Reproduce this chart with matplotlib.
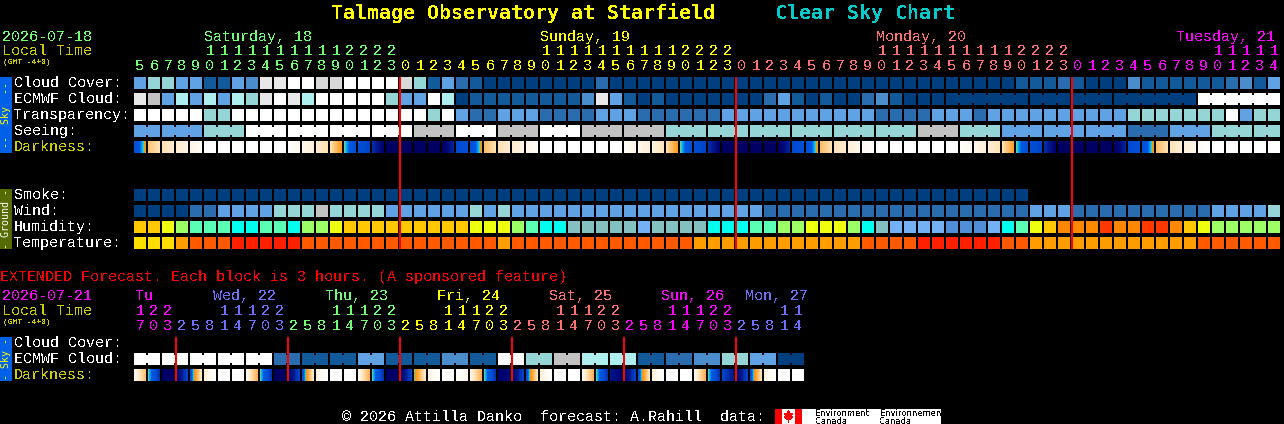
"""Clear Sky Chart, Talmage Observatory at Starfield."""
import matplotlib
matplotlib.use('Agg')
import matplotlib.pyplot as plt
import numpy as np
from matplotlib.colors import LinearSegmentedColormap
from matplotlib.patches import Polygon

# ─── data ───────────────────────────────────────────────────────────────────
# sky rows use an index into CLOUD_COLORS, one value per hourly block

hours = [5, 6, 7, 8, 9, 10, 11, 12, 13, 14, 15, 16, 17, 18, 19, 20, 21, 22, 23,
         0, 1, 2, 3, 4, 5, 6, 7, 8, 9, 10, 11, 12, 13, 14, 15, 16, 17, 18, 19, 20, 21, 22, 23,
         0, 1, 2, 3, 4, 5, 6, 7, 8, 9, 10, 11, 12, 13, 14, 15, 16, 17, 18, 19, 20, 21, 22, 23,
         0, 1, 2, 3, 4, 5, 6, 7, 8, 9, 10, 11, 12, 13, 14]
midnights = [19, 43, 67]
day_labels = ['Saturday, 18', 'Sunday, 19', 'Monday, 20', 'Tuesday, 21']

cloud_cover = [4, 5, 5, 4, 4, 1, 1, 4, 3, 9, 9, 10, 10, 11, 11, 10, 10, 10, 10, 11,
               5, 1, 4, 2, 1, 0, 0, 0, 0, 0, 0, 0, 0, 2, 0, 0, 0, 0, 0, 0,
               0, 0, 0, 0, 0, 0, 0, 0, 0, 0, 0, 0, 0, 0, 0, 0, 0, 0, 0, 0,
               0, 0, 0, 1, 1, 1, 2, 1, 0, 0, 0, 3, 1, 1, 1, 1, 1, 1, 2, 3,
               1, 4]
ecmwf_cloud = [9, 8, 4, 6, 4, 6, 4, 6, 5, 9, 10, 9, 6, 10, 10, 10, 10, 10, 5, 4,
               4, 10, 6, 0, 1, 1, 1, 1, 1, 1, 1, 1, 3, 9, 4, 1, 0, 1, 0, 0,
               0, 0, 0, 0, 0, 2, 4, 1, 0, 1, 0, 0, 2, 3, 1, 0, 0, 0, 0, 0,
               0, 0, 0, 0, 0, 0, 0, 0, 0, 0, 0, 0, 0, 0, 0, 0, 10, 10, 10, 10,
               10, 10]
ecmwf_runs = [[58, 6], [64, 3], [67, 3], [70, 6], [76, 6]]
transparency = [10, 10, 10, 10, 10, 5, 5, 10, 10, 10, 10, 10, 10, 10, 10, 10, 10, 10, 10, 10,
                10, 5, 10, 4, 2, 2, 4, 4, 4, 2, 2, 2, 2, 4, 4, 4, 2, 2, 2, 2,
                2, 2, 4, 4, 4, 4, 4, 4, 4, 4, 4, 4, 4, 2, 2, 2, 2, 4, 4, 4,
                2, 4, 4, 4, 4, 4, 4, 4, 4, 4, 4, 5, 5, 5, 5, 5, 5, 5, 10, 4,
                5, 5]
seeing_runs = [2, 3, 3, 3, 3, 3, 3, 3, 3, 3, 3, 3, 3, 3, 3, 3, 3, 3, 3, 3, 3, 3, 3, 3, 3, 3, 3, 2]
seeing = [4, 4, 5, 10, 10, 10, 10, 8, 10, 8, 10, 8, 8, 5, 5, 5, 5, 5, 5, 8, 5, 4, 4, 4, 2, 4, 5, 5]

# darkness: (left edge, right edge) of each block on the darkness scale, 0 is daylight
darkness = [(.62, .41), (.24, .14), (.15, .10), (.10, .06), (.06, .02), (0, 0), (0, 0), (0, 0),
            (0, 0), (0, 0), (0, 0), (.01, .04), (.04, .08), (.10, .15), (.15, .38), (.44, .62),
            (.62, .66), (.72, .90), (.95, .95), (.95, .95), (.95, .95), (.95, .95), (.95, .75),
            (.64, .62), (.62, .41), (.26, .15), (.15, .10), (.10, .06), (.05, .02), (0, 0),
            (0, 0), (0, 0), (0, 0), (0, 0), (0, 0), (.02, .05), (.05, .08), (.08, .13),
            (.15, .38), (.44, .62), (.62, .66), (.72, .90), (.95, .95), (.95, .95), (.95, .95),
            (.95, .95), (.95, .75), (.64, .62), (.62, .41), (.26, .15), (.14, .10), (.08, .05),
            (.03, 0), (0, 0), (0, 0), (0, 0), (0, 0), (0, 0), (0, 0), (.01, .04), (.05, .08),
            (.09, .14), (.15, .36), (.44, .62), (.62, .66), (.72, .90), (.95, .95), (.95, .95),
            (.95, .95), (.95, .95), (.95, .75), (.64, .62), (.62, .41), (.26, .15), (.14, .09),
            (.08, .05), (.02, 0), (0, 0), (0, 0), (0, 0), (0, 0), (0, 0)]

smoke = [0, 0, 0, 0, 0, 0, 0, 0, 0, 0, 0, 0, 0, 0, 0, 0, 0, 0, 0, 0, 0, 0, 0, 0, 0, 0, 0, 0, 0, 0, 0, 0,
         0, 0, 0, 0, 0, 0, 0, 0, 0, 0, 0, 0, 0, 0, 0, 0, 0, 0, 0, 0, 0, 0, 0, 0, 0, 0, 0, 0, 0, 0, 0, 0]
wind = [0, 0, 0, 0, 2, 2, 4, 4, 4, 4, 5, 5, 5, 8, 5, 5, 5, 5, 4, 4,
        4, 4, 4, 4, 5, 4, 5, 4, 4, 4, 4, 4, 4, 4, 4, 4, 4, 4, 4, 4,
        4, 4, 4, 4, 4, 2, 2, 2, 2, 2, 2, 2, 2, 2, 2, 2, 2, 2, 2, 2,
        2, 2, 2, 2, 4, 4, 4, 2, 2, 2, 2, 2, 2, 2, 2, 2, 2, 4, 4, 4,
        4, 5]
humidity = [2, 2, 3, 4, 5, 5, 5, 6, 6, 5, 5, 6, 4, 4, 3, 2, 2, 2, 2, 2,
            2, 2, 2, 2, 3, 3, 3, 4, 5, 6, 6, 7, 7, 7, 7, 7, 8, 7, 7, 7,
            7, 6, 6, 6, 5, 5, 4, 4, 3, 3, 3, 4, 6, 7, 8, 8, 8, 8, 9, 9,
            9, 8, 6, 5, 3, 2, 1, 1, 1, 0, 1, 1, 0, 0, 1, 2, 3, 4, 4, 4,
            4, 4]
temperature = [0, 0, 0, 1, 2, 2, 2, 3, 3, 3, 3, 3, 2, 2, 2, 2, 2, 2, 2, 2,
               2, 2, 2, 2, 2, 2, 1, 2, 2, 2, 2, 2, 2, 2, 2, 2, 2, 2, 2, 2,
               1, 1, 1, 1, 1, 1, 1, 1, 1, 1, 1, 1, 2, 2, 2, 2, 3, 3, 3, 3,
               3, 3, 2, 2, 1, 1, 1, 1, 1, 1, 1, 1, 1, 1, 1, 1, 2, 2, 2, 2,
               2, 2]

# extended forecast, one block per 3 hours
ext_hours = [17, 20, 23, 2, 5, 8, 11, 14, 17, 20, 23, 2, 5, 8, 11, 14, 17, 20, 23,
             2, 5, 8, 11, 14, 17, 20, 23, 2, 5, 8, 11, 14, 17, 20, 23,
             2, 5, 8, 11, 14, 17, 20, 23, 2, 5, 8, 11, 14]
ext_midnights = [3, 11, 19, 27, 35, 43]
ext_day_labels = ['Tu', 'Wed, 22', 'Thu, 23', 'Fri, 24', 'Sat, 25', 'Sun, 26', 'Mon, 27']
ext_ecmwf = [10, 10, 10, 10, 10, 2, 1, 1, 4, 1, 1, 3, 1, 10, 5, 8, 6, 6, 1, 2, 3, 5, 4, 0]  # one per 6 h
ext_darkness = [(.02, .25), (.44, .72), (.95, .92), (.90, .65), (.58, .10), (.08, 0), (0, 0), (0, 0),
                (.02, .30), (.44, .72), (.95, .95), (.90, .65), (.58, .10), (.06, 0), (0, 0), (0, 0),
                (.02, .30), (.44, .72), (.95, .92), (.90, .65), (.44, .10), (.06, 0), (0, 0), (0, .05),
                (.05, .30), (.44, .72), (.92, .85), (.90, .65), (.58, .12), (.08, 0), (0, 0), (0, 0),
                (.03, .30), (.44, .72), (.80, .90), (.90, .65), (.58, .12), (.08, 0), (0, 0), (0, 0),
                (.03, .30), (.44, .72), (.65, .80), (.90, .65), (.58, .12), (.06, 0), (0, 0), (0, 0)]

# ─── style ──────────────────────────────────────────────────────────────────

CLOUD_COLORS = ['#003f7f', '#135a9b', '#2a6cad', '#4b8ccc', '#60a2e4', '#95d5d5',
                '#afeeee', '#afeeee', '#c2c2c2', '#e8e8e8', '#ffffff', '#d8d8d8']
HUMIDITY_COLORS = ['#ff3800', '#ff8800', '#ffc800', '#eeff10', '#9cff66',
                   '#5affb4', '#00ffee', '#84c0c0', '#74b0f4', '#508fd8']
TEMP_COLORS = ['#ffdd00', '#ff9c00', '#ff5a00', '#ff2000']
DARK_CMAP = LinearSegmentedColormap.from_list('darkness', [
    (0.00, '#ffffff'), (0.05, '#fff6e8'), (0.10, '#ffecd0'), (0.15, '#ffe0b0'),
    (0.30, '#ffb050'), (0.42, '#ff9000'), (0.44, '#60d0a0'), (0.47, '#00b0ff'),
    (0.52, '#0058e0'), (0.62, '#0050d8'), (0.68, '#0040c0'), (0.78, '#001c90'),
    (0.90, '#000070'), (1.00, '#000058')])

GREEN, YELLOW, SALMON, MAGENTA, BLUE = '#70ff70', '#ffff00', '#ff7070', '#ff00ff', '#7070ff'
OLIVE_TEXT = '#cccc00'

X0, PITCH, SIZE = 134, 14, 12

plt.rcParams['font.family'] = ['Liberation Mono', 'DejaVu Sans Mono']
plt.rcParams['text.antialiased'] = False

fig = plt.figure(figsize=(12.84, 4.24), dpi=100, facecolor='black')
ax = fig.add_axes([0, 0, 1, 1])
ax.set_xlim(0, 1284)
ax.set_ylim(424, 0)
ax.autoscale(False)
ax.axis('off')

FS = 10.8  # 9 px per character


def put(x, y, s, color='white', size=FS, **kw):
    ax.text(x, y, s, color=color, fontsize=size, va='baseline', **kw)


def blocks(y, values, colors):
    xs = X0 + PITCH * np.arange(len(values))
    ax.bar(xs, SIZE, width=SIZE, bottom=y, align='edge', linewidth=0, antialiased=False,
           color=[colors[v] for v in values])


def joins(y, values, colors, runs):
    # blocks of one forecast step are linked by a narrower bridge
    for start, length in runs:
        xs = X0 + PITCH * np.arange(start, start + length - 1) + SIZE
        ax.bar(xs, SIZE - 4, width=PITCH - SIZE, bottom=y + 2, align='edge', linewidth=0,
               antialiased=False, color=colors[values[start]])


def dark_blocks(y, values):
    for i, (left, right) in enumerate(values):
        x = X0 + PITCH * i
        ax.imshow(np.linspace(left, right, SIZE)[None, :], cmap=DARK_CMAP, vmin=0, vmax=1,
                  extent=(x, x + SIZE, y + SIZE, y), aspect='auto', interpolation='nearest')


def hour_digits(values, starts, colors, y_tens, y_units):
    for i, h in enumerate(values):
        color = colors[np.searchsorted(starts, i, side='right') - 1]
        x = X0 + PITCH * i + SIZE / 2
        if h >= 10:
            put(x, y_tens, str(h // 10), color, ha='center')
        put(x, y_units, str(h % 10), color, ha='center')


def side_band(y0, y1, color, text, text_color):
    ax.bar(0, y1 - y0, width=12, bottom=y0, align='edge', color=color, linewidth=0, antialiased=False)
    ax.text(6, (y0 + y1) / 2, text, color=text_color, fontsize=7.2, rotation=90,
            ha='center', va='center', family='DejaVu Sans Mono', antialiased=True)


# ─── title and top header ───────────────────────────────────────────────────

put(331, 19, 'Talmage Observatory at Starfield', '#ffff00', 14.4, weight='bold', family='DejaVu Sans Mono')
put(775, 19, 'Clear Sky Chart', '#00cccc', 14.4, weight='bold', family='DejaVu Sans Mono')

put(2, 41, '2026-07-18', GREEN)
put(2, 55, 'Local Time', OLIVE_TEXT)
put(3, 64, '(GMT -4+0)', OLIVE_TEXT, 5.8)

for x, label, color in zip([204, 540, 876, 1176], day_labels, [GREEN, YELLOW, SALMON, MAGENTA]):
    put(x, 41, label, color)
hour_digits(hours, [0] + midnights, [GREEN, YELLOW, SALMON, MAGENTA], 55, 70)

# ─── sky and ground rows ────────────────────────────────────────────────────

side_band(77, 153, '#0060e8', '--  Sky  --', '#ffff00')
side_band(189, 249, '#556b00', '- Ground -', '#ffffff')

for y, label in zip([87, 103, 119, 135], ['Cloud Cover:', 'ECMWF Cloud:', 'Transparency:', 'Seeing:']):
    put(14, y, label)
put(14, 151, 'Darkness:', OLIVE_TEXT)
for y, label in zip([199, 215, 231, 247], ['Smoke:', 'Wind:', 'Humidity:', 'Temperature:']):
    put(14, y, label)

blocks(77, cloud_cover, CLOUD_COLORS)
blocks(93, ecmwf_cloud, CLOUD_COLORS)
joins(93, ecmwf_cloud, CLOUD_COLORS, ecmwf_runs)
blocks(109, transparency, CLOUD_COLORS)

seeing_hourly = np.repeat(seeing, seeing_runs)
seeing_starts = np.cumsum([0] + seeing_runs[:-1])
blocks(125, seeing_hourly, CLOUD_COLORS)
joins(125, seeing_hourly, CLOUD_COLORS, list(zip(seeing_starts, seeing_runs)))

dark_blocks(141, darkness)

blocks(189, smoke, CLOUD_COLORS)
blocks(205, wind, CLOUD_COLORS)
blocks(221, humidity, HUMIDITY_COLORS)
blocks(237, temperature, TEMP_COLORS)

ax.vlines(X0 + PITCH * np.array(midnights), 77, 249, color='#ff0000', linewidth=1.44, antialiased=False)

# ─── extended forecast ──────────────────────────────────────────────────────

put(0, 281, 'EXTENDED Forecast. Each block is 3 hours. (A sponsored feature)', '#ff0000')
put(2, 300, '2026-07-21', MAGENTA)
put(2, 315, 'Local Time', OLIVE_TEXT)
put(3, 324, '(GMT -4+0)', OLIVE_TEXT, 5.8)

for x, label, color in zip([135, 213, 325, 437, 549, 661, 745], ext_day_labels,
                           [MAGENTA, BLUE, GREEN, YELLOW, SALMON, MAGENTA, BLUE]):
    put(x, 300, label, color)
hour_digits(ext_hours, [0] + ext_midnights, [MAGENTA, BLUE, GREEN, YELLOW, SALMON, MAGENTA, BLUE], 315, 330)

side_band(337, 381, '#0060e8', '- Sky -', '#ffff00')
put(14, 347, 'Cloud Cover:')
put(14, 363, 'ECMWF Cloud:')
put(14, 379, 'Darkness:', OLIVE_TEXT)

ext_hourly = np.repeat(ext_ecmwf, 2)
blocks(353, ext_hourly, CLOUD_COLORS)
joins(353, ext_hourly, CLOUD_COLORS, [(i, 2) for i in range(0, len(ext_hourly), 2)])
dark_blocks(369, ext_darkness)

ax.vlines(X0 + PITCH * np.array(ext_midnights), 337, 381, color='#ff0000', linewidth=1.44, antialiased=False)

# ─── footer and logos ───────────────────────────────────────────────────────

put(342, 421, '\u00a9 2026 Attilla Danko  forecast: A.Rahill  data:')

ax.bar(775, 15, width=166, bottom=409, align='edge', color='white', linewidth=0, antialiased=False)
ax.bar([775, 795], 15, width=7, bottom=409, align='edge', color='#ff0000', linewidth=0, antialiased=False)
leaf = [(788.5, 410), (790, 413), (793, 413), (791.5, 416), (793, 417), (789, 420), (789, 423),
        (788, 423), (788, 420), (784, 417), (785.5, 416), (784, 413), (787, 413)]
ax.add_patch(Polygon(leaf, closed=True, facecolor='#ff0000', edgecolor='none', antialiased=False))
for x, name in zip([815, 880], ['Environment', 'Environnement']):
    ax.text(x, 416, name, color='black', fontsize=6, family='DejaVu Sans', va='baseline')
    ax.text(x, 423.5, 'Canada', color='black', fontsize=6, family='DejaVu Sans', va='baseline')

fig.savefig('out.png', dpi=100, facecolor='black')
